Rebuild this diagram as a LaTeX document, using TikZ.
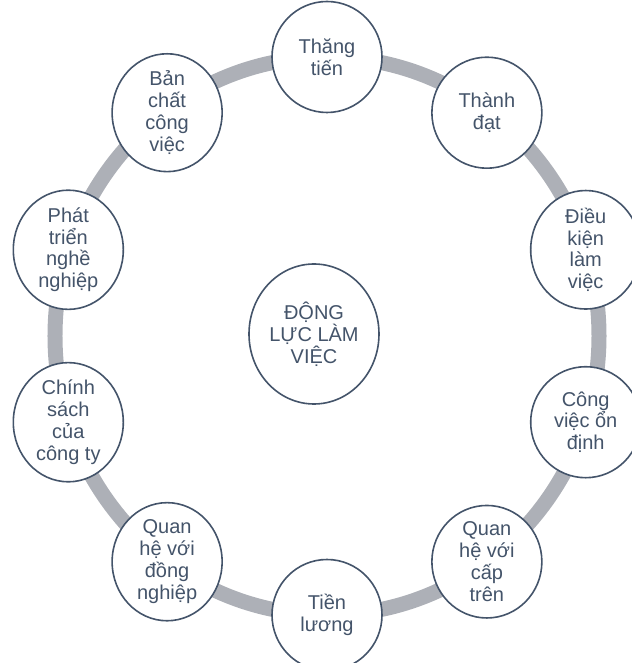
\documentclass[tikz,border=0pt]{standalone}
\usepackage{fontspec}
\setmainfont{Liberation Sans}
\usepackage{xcolor}
\usetikzlibrary{shapes.geometric}
\definecolor{slate}{HTML}{44546A}
\definecolor{ringgray}{HTML}{ADB0B7}

\begin{document}
\begin{tikzpicture}[x=0.5pt,y=0.5pt]

        % Define block styles
        \tikzstyle{factor} = [ellipse, draw=slate, line width=0.8pt, fill=white, text=slate, align=center, inner sep=0pt, minimum width=55pt, minimum height=55.5pt, font=\fontsize{10}{10.9}\selectfont]
        \tikzstyle{hubnode} = [factor, minimum width=65pt, minimum height=70pt]
        \tikzstyle{ring} = [draw=ringgray, line width=7.5pt]

        \useasboundingbox (-327,-327) rectangle (304,336);

        % Ring
        \coordinate (hub) at (0,0);
        \draw [ring] (hub) ellipse (272 and 279);

        % Components
        \node (dongluc) [hubnode] at (-13,2) {ĐỘNG\\LỰC LÀM\\VIỆC};
        \node (thangtien) [factor] at (90:272 and 279) {Thăng\\tiến};
        \node (thanhdat) [factor] at (54:272 and 276) {Thành\\đạt};
        \node (dieukien) [factor] at (18:272 and 279) {Điều\\kiện\\làm\\việc};
        \node (ondinh) [factor] at (-18:272 and 279) {Công\\việc ổn\\định};
        \node (captren) [factor] at (-54:272 and 279) {Quan\\hệ với\\cấp\\trên};
        \node (tienluong) [factor] at (-90:272 and 279) {Tiền\\lương};
        \node (dongnghiep) [factor] at (-126:272 and 279) {Quan\\hệ với\\đồng\\nghiệp};
        \node (chinhsach) [factor] at (-162:272 and 279) {Chính\\sách\\của\\công ty};
        \node (phattrien) [factor] at (162:272 and 279) {Phát\\triển\\nghề\\nghiệp};
        \node (banchat) [factor] at (126:272 and 276) {Bản\\chất\\công\\việc};

\end{tikzpicture}
\end{document}
